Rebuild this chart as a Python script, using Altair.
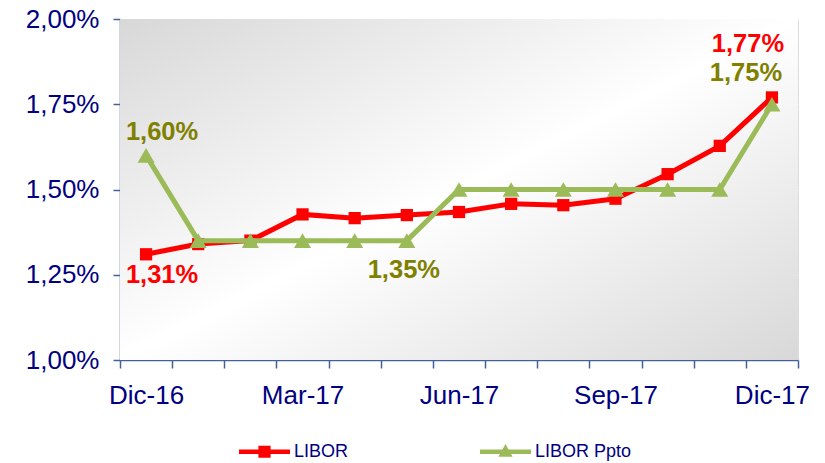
import altair as alt
import pandas as pd

meses = ["Dic-16", "Ene-17", "Feb-17", "Mar-17", "Abr-17", "May-17", "Jun-17",
         "Jul-17", "Ago-17", "Sep-17", "Oct-17", "Nov-17", "Dic-17"]
libor = [1.31, 1.34, 1.35, 1.427, 1.416, 1.425, 1.434, 1.458, 1.454, 1.473, 1.545, 1.628, 1.77]
libor_ppto = [1.60, 1.35, 1.35, 1.35, 1.35, 1.35, 1.50, 1.50, 1.50, 1.50, 1.50, 1.50, 1.75]
series = ["LIBOR", "LIBOR Ppto"]
etiquetas_x = ["Dic-16", "Mar-17", "Jun-17", "Sep-17", "Dic-17"]
ticks_y = [1.0, 1.25, 1.5, 1.75, 2.0]

RED = "#FF0000"
GREEN = "#9BBB59"
OLIVE = "#808000"
NAVY = "#000080"
AXIS = "#44609A"
FONT = "Liberation Sans"

rows = []
for m, v in zip(meses, libor):
    rows.append({"mes": m, "serie": series[0], "valor": v})
for m, v in zip(meses, libor_ppto):
    rows.append({"mes": m, "serie": series[1], "valor": v})
df = pd.DataFrame(rows)

W, H = 678, 341

x_enc = alt.X(
    "mes:O", sort=meses, title=None, bandPosition=0.5,
    scale=alt.Scale(type="band", domain=meses, paddingInner=0, paddingOuter=0),
    axis=alt.Axis(
        tickBand="extent", tickExtra=True, labelAngle=0, labelOverlap=False,
        labelExpr="indexof(" + str(etiquetas_x) + ", datum.label) >= 0 ? datum.label : ''",
        labelFontSize=26, labelColor=NAVY, labelFont=FONT, labelPadding=14,
        domainColor=AXIS, tickColor=AXIS, tickSize=8, domainWidth=1.5, tickWidth=1.5,
        grid=False,
    ),
)
y_enc = alt.Y(
    "valor:Q", title=None,
    scale=alt.Scale(domain=[1.0, 2.0], nice=False, zero=False),
    axis=alt.Axis(
        values=ticks_y,
        labelExpr="replace(format(datum.value, '.2f'), '.', ',') + '%'",
        labelFontSize=26, labelColor=NAVY, labelFont=FONT, labelPadding=14,
        domainColor=AXIS, tickColor=AXIS, tickSize=7, domainWidth=1.5, tickWidth=1.5,
        grid=True, gridColor="#FFFFFF", gridWidth=1.2,
    ),
)

base = alt.Chart(df).encode(x=x_enc, y=y_enc)

bg = alt.Chart(alt.Data(values=[{"a": 1}])).mark_rect(
    color=alt.LinearGradient(
        gradient="linear", x1=0, y1=0, x2=1, y2=1,
        stops=[
            alt.GradientStop(offset=0, color="#D8D8D8"),
            alt.GradientStop(offset=0.5, color="#FFFFFF"),
            alt.GradientStop(offset=1, color="#D8D8D8"),
        ],
    )
).encode(x=alt.value(0), x2=alt.value(W), y=alt.value(0), y2=alt.value(H))

red_line = base.transform_filter(alt.datum.serie == series[0]).mark_line(
    color=RED, strokeWidth=5)
red_pts = base.transform_filter(alt.datum.serie == series[0]).mark_point(
    shape="square", filled=True, color=RED, size=150, opacity=1)
green_line = base.transform_filter(alt.datum.serie == series[1]).mark_line(
    color=GREEN, strokeWidth=5)
green_pts = base.transform_filter(alt.datum.serie == series[1]).mark_point(
    shape="triangle-up", filled=True, color=GREEN, size=290, opacity=1)

label_calc = "replace(format(datum.valor, '.2f'), '.', ',') + '%'"


def label(serie, mes, color, dx, dy):
    return base.transform_filter(
        (alt.datum.serie == serie) & (alt.datum.mes == mes)
    ).transform_calculate(txt=label_calc).mark_text(
        font=FONT, fontSize=25.5, fontWeight="bold", color=color,
        dx=dx, dy=dy, baseline="middle", align="center",
    ).encode(text="txt:N")


labels = [
    label(series[0], "Dic-16", RED, 16, 21),
    label(series[1], "Dic-16", OLIVE, 16, -23),
    label(series[1], "May-17", OLIVE, -3, 29),
    label(series[0], "Dic-17", RED, -24, -53),
    label(series[1], "Dic-17", OLIVE, -26, -31),
]

path_sq = "M-1,-0.09H1V0.09H-1Z M-0.24,-0.24H0.24V0.24H-0.24Z"
path_tri = "M-1,-0.09H1V0.09H-1Z M0,-0.3L0.28,0.2H-0.28Z"

leg_props = dict(
    title=None, orient="none", direction="horizontal", legendX=119, legendY=407,
    symbolSize=2601, symbolStrokeWidth=0, symbolOpacity=1, columnPadding=131,
    labelFont=FONT, labelFontSize=18, labelColor=NAVY, labelOffset=4, padding=0,
)
legend_layer = alt.Chart(df).transform_filter("false").mark_point(
    filled=True, opacity=1
).encode(
    shape=alt.Shape("serie:N", scale=alt.Scale(domain=series, range=[path_sq, path_tri]),
                    legend=alt.Legend(**leg_props)),
    fill=alt.Fill("serie:N", scale=alt.Scale(domain=series, range=[RED, GREEN]),
                  legend=alt.Legend(**leg_props)),
)

chart = alt.layer(
    bg, red_line, red_pts, green_line, green_pts, *labels, legend_layer
).properties(
    width=W, height=H,
    autosize=alt.AutoSizeParams(type="none"),
    padding={"left": 112, "top": 11, "right": 19, "bottom": 103},
).configure_view(stroke=None).configure(background="#FFFFFF")

chart.save("out.html", embed_options={"renderer": "svg", "actions": False})
